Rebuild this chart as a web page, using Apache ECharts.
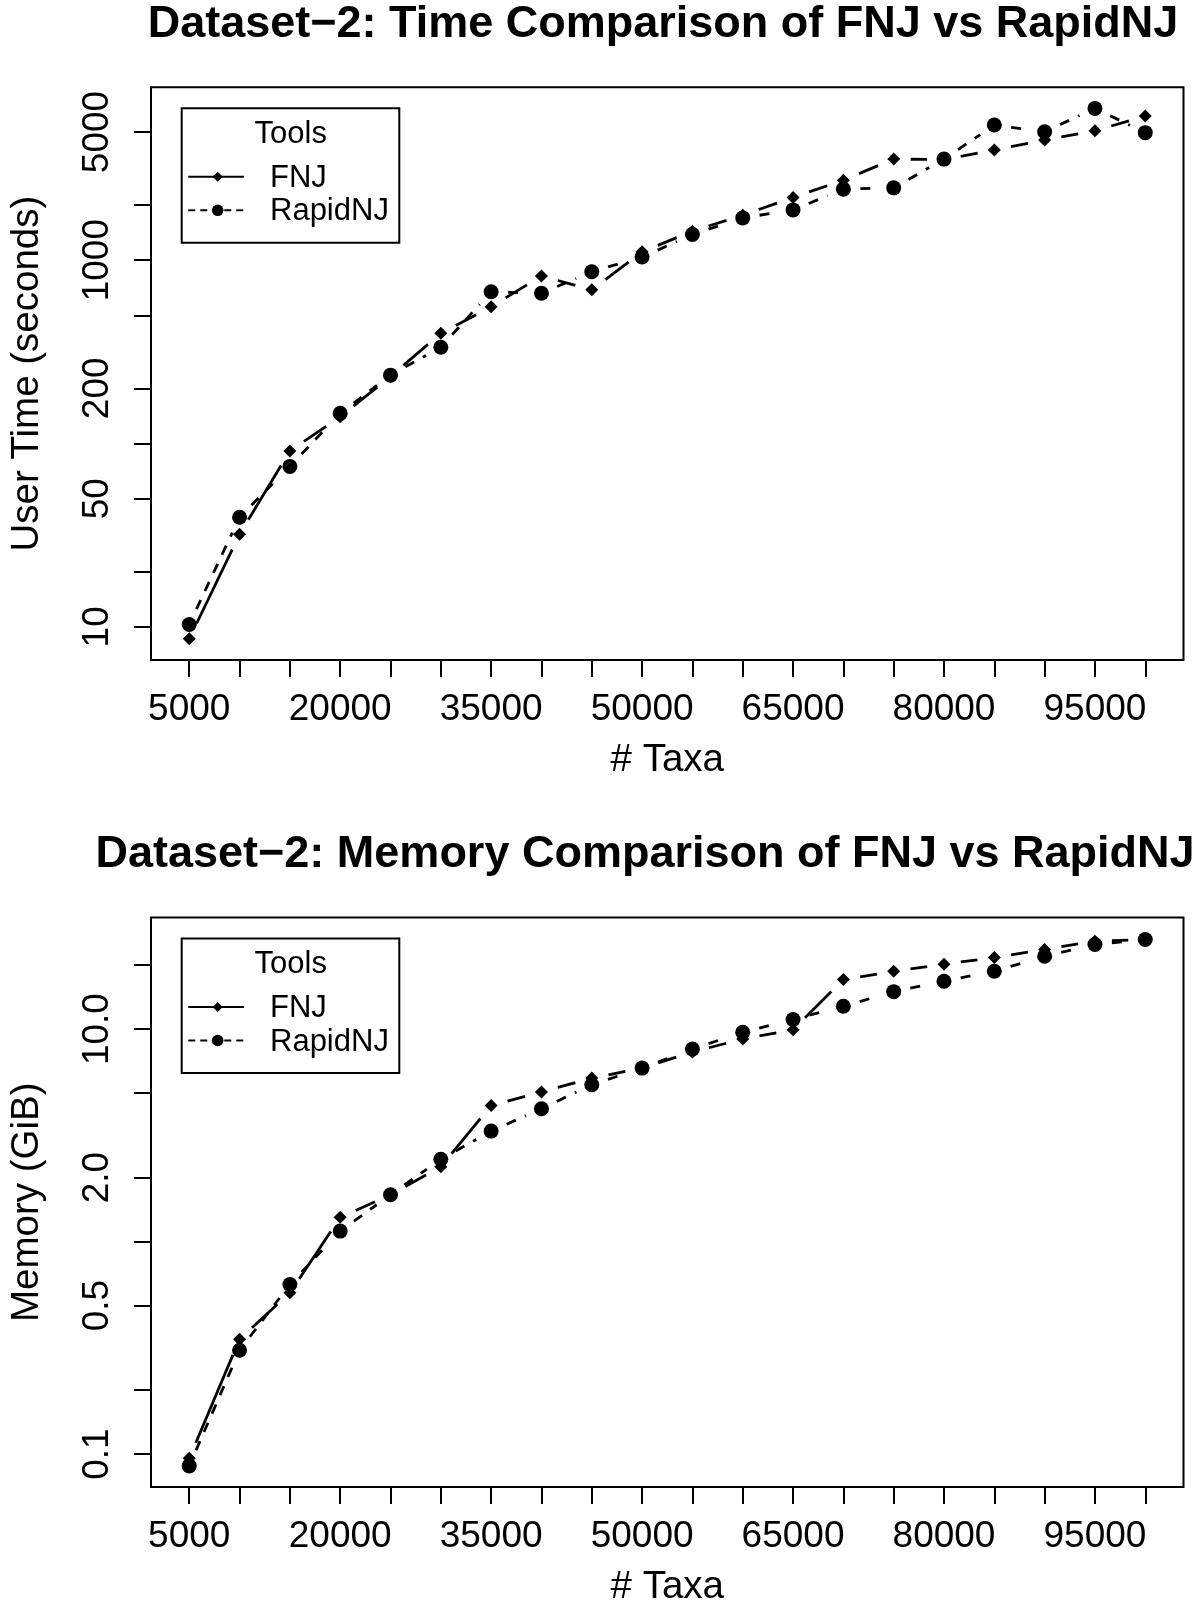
<!DOCTYPE html>
<html>
<head>
<meta charset="utf-8">
<title>Dataset-2: FNJ vs RapidNJ</title>
<script src="https://cdn.jsdelivr.net/npm/echarts@6/dist/echarts.min.js"></script>
<style>
  html, body { margin: 0; padding: 0; background: #fff; }
  #chart { width: 1200px; height: 1608px; }
</style>
</head>
<body>
<div id="chart"></div>
<script>
// # Taxa
const taxa = [5000, 10000, 15000, 20000, 25000, 30000, 35000, 40000, 45000, 50000,
  55000, 60000, 65000, 70000, 75000, 80000, 85000, 90000, 95000, 100000];

// user time (seconds)
const fnjTime = [8.6, 32, 91, 140, 232, 399, 557, 820, 689, 1110,
  1440, 1760, 2200, 2730, 3560, 3540, 3990, 4520, 5080, 6110];
const rapidTime = [10.3, 39.6, 75, 146, 236, 335, 673, 660, 865, 1040,
  1380, 1700, 1880, 2440, 2480, 3560, 5460, 5020, 6730, 4960];

// memory (GiB)
const fnjMem = [0.0955, 0.347, 0.574, 1.3, 1.66, 2.25, 4.37, 5.06, 5.88, 6.55,
  7.8, 8.98, 9.93, 17.1, 18.7, 20.2, 21.7, 23.7, 25.9, 26.4];
const rapidMem = [0.088, 0.308, 0.628, 1.12, 1.66, 2.44, 3.31, 4.22, 5.47, 6.55,
  8.06, 9.65, 11.1, 12.8, 15.0, 16.8, 18.7, 22.0, 25.0, 26.4];

// ticks and tick labels
const xTicks = [5000, 10000, 15000, 20000, 25000, 30000, 35000, 40000, 45000, 50000,
  55000, 60000, 65000, 70000, 75000, 80000, 85000, 90000, 95000, 100000];
const xLabels = [5000, 20000, 35000, 50000, 65000, 80000, 95000];
const timeTicks = [10, 20, 50, 100, 200, 500, 1000, 2000, 5000];
const timeLabels = [10, 50, 200, 1000, 5000];
const memTicks = [0.1, 0.2, 0.5, 1, 2, 5, 10, 20];
const memLabels = [0.1, 0.5, 2, 10];

// visible axis ranges (R adds 4% on each side)
const xRange = [1200, 103800];
const timeRange = [6.6, 8770];
const memRange = [0.07, 33.5];

const FONT = '"Liberation Sans", Arial, Helvetica, sans-serif';
const GAP = 17; // type="b": lines stop short of the points
const GRID_LEFT = 142.9;
const GRID_W = 1040.6;
const GRID_H = 572.6;

const panels = [
  {
    title: 'Dataset\u22122: Time Comparison of FNJ vs RapidNJ',
    titleLeft: 663,
    titleTop: 2,
    yName: 'User Time (seconds)',
    top: 87.3,
    fnj: fnjTime,
    rapid: rapidTime,
    range: timeRange,
    ticks: timeTicks,
    labels: timeLabels,
    digits: 0,
  },
  {
    title: 'Dataset\u22122: Memory Comparison of FNJ vs RapidNJ',
    titleLeft: 645,
    titleTop: 832,
    yName: 'Memory (GiB)',
    top: 917.5,
    fnj: fnjMem,
    rapid: rapidMem,
    range: memRange,
    ticks: memTicks,
    labels: memLabels,
    digits: 1,
  },
];

const textStyle = { color: '#000', fontFamily: FONT, fontSize: 37 };
const nameStyle = { color: '#000', fontFamily: FONT, fontSize: 38.5 };

function gapLine(dash) {
  return function (params, api) {
    const a = api.coord([api.value(0), api.value(1)]);
    const b = api.coord([api.value(2), api.value(3)]);
    const dx = b[0] - a[0];
    const dy = b[1] - a[1];
    const len = Math.hypot(dx, dy);
    if (len <= 2 * GAP) return;
    const ux = dx / len;
    const uy = dy / len;
    return {
      type: 'line',
      shape: {
        x1: a[0] + ux * GAP,
        y1: a[1] + uy * GAP,
        x2: b[0] - ux * GAP,
        y2: b[1] - uy * GAP,
      },
      style: { stroke: '#000', lineWidth: 2.8, lineDash: dash, lineCap: 'butt', fill: null },
    };
  };
}

function segments(ys) {
  return taxa.slice(0, -1).map((x, i) => [x, ys[i], taxa[i + 1], ys[i + 1]]);
}

function points(ys) {
  return taxa.map((x, i) => [x, ys[i]]);
}

function legendBox(top) {
  const L = 181.7;
  const T = top;
  const font = '31px ' + FONT;
  return {
    type: 'group',
    children: [
      { type: 'rect', shape: { x: L, y: T, width: 217.6, height: 134.4 },
        style: { fill: '#fff', stroke: '#000', lineWidth: 2 } },
      { type: 'text', style: { x: L + 109, y: T + 26, text: 'Tools', font: font, fill: '#000',
        align: 'center', textAlign: 'center', verticalAlign: 'middle', textVerticalAlign: 'middle' } },
      { type: 'line', shape: { x1: L + 6.6, y1: T + 68.5, x2: L + 62.3, y2: T + 68.5 },
        style: { stroke: '#000', lineWidth: 2 } },
      { type: 'polygon', shape: { points: [[L + 36, T + 63.5], [L + 41, T + 68.5], [L + 36, T + 73.5], [L + 31, T + 68.5]] },
        style: { fill: '#000' } },
      { type: 'text', style: { x: L + 88.3, y: T + 70, text: 'FNJ', font: font, fill: '#000',
        align: 'left', textAlign: 'left', verticalAlign: 'middle', textVerticalAlign: 'middle' } },
      { type: 'line', shape: { x1: L + 6.6, y1: T + 102, x2: L + 62.3, y2: T + 102 },
        style: { stroke: '#000', lineWidth: 2, lineDash: [7, 5] } },
      { type: 'circle', shape: { cx: L + 36, cy: T + 102, r: 5.8 }, style: { fill: '#000' } },
      { type: 'text', style: { x: L + 88.3, y: T + 103.5, text: 'RapidNJ', font: font, fill: '#000',
        align: 'left', textAlign: 'left', verticalAlign: 'middle', textVerticalAlign: 'middle' } },
    ],
  };
}

const option = {
  animation: false,
  backgroundColor: '#fff',
  title: [],
  grid: [],
  xAxis: [],
  yAxis: [],
  series: [],
  graphic: [],
};

panels.forEach((p, i) => {
  const logTicks = p.ticks.map(Math.log10);
  const logLabels = p.labels.map(Math.log10);

  option.title.push({
    text: p.title,
    left: p.titleLeft,
    top: p.titleTop,
    textAlign: 'center',
    padding: 0,
    textStyle: { color: '#000', fontFamily: FONT, fontSize: 45, fontWeight: 'bold' },
  });

  option.grid.push({
    left: GRID_LEFT,
    top: p.top,
    width: GRID_W,
    height: GRID_H,
    show: true,
    borderColor: '#000',
    borderWidth: 2,
    backgroundColor: 'transparent',
    containLabel: false,
  });

  option.xAxis.push({
    gridIndex: i,
    type: 'value',
    min: xRange[0],
    max: xRange[1],
    position: 'bottom',
    axisLine: { show: false, onZero: false },
    splitLine: { show: false },
    axisTick: { show: true, inside: false, length: 17, customValues: xTicks,
      lineStyle: { color: '#000', width: 2 } },
    axisLabel: { customValues: xLabels, formatter: (v) => String(v), margin: 31, ...textStyle },
    name: '# Taxa',
    nameLocation: 'middle',
    nameGap: 81,
    nameTextStyle: nameStyle,
  });

  // log axis that places the marks
  option.yAxis.push({
    gridIndex: i,
    type: 'log',
    logBase: 10,
    min: p.range[0],
    max: p.range[1],
    position: 'right',
    axisLine: { onZero: false },
    show: false,
  });

  // matching axis in log10 units for R-style ticks and labels
  option.yAxis.push({
    gridIndex: i,
    type: 'value',
    min: Math.log10(p.range[0]),
    max: Math.log10(p.range[1]),
    position: 'left',
    axisLine: { show: false, onZero: false },
    splitLine: { show: false },
    axisTick: { show: true, inside: false, length: 17, customValues: logTicks,
      lineStyle: { color: '#000', width: 2 } },
    axisLabel: {
      customValues: logLabels,
      rotate: 90,
      margin: 35,
      formatter: (v) => {
        const k = logLabels.findIndex((q) => Math.abs(q - v) < 1e-9);
        return k < 0 ? '' : p.labels[k].toFixed(p.digits);
      },
      ...textStyle,
    },
    name: p.yName,
    nameLocation: 'middle',
    nameRotate: 90,
    nameGap: 104,
    nameTextStyle: nameStyle,
  });

  const yIdx = i * 2;
  option.series.push(
    {
      name: 'FNJ',
      type: 'custom',
      coordinateSystem: 'cartesian2d',
      xAxisIndex: i,
      yAxisIndex: yIdx,
      silent: true,
      renderItem: gapLine(null),
      encode: { x: [0, 2], y: [1, 3] },
      data: segments(p.fnj),
    },
    {
      name: 'RapidNJ',
      type: 'custom',
      coordinateSystem: 'cartesian2d',
      xAxisIndex: i,
      yAxisIndex: yIdx,
      silent: true,
      renderItem: gapLine([10, 10]),
      encode: { x: [0, 2], y: [1, 3] },
      data: segments(p.rapid),
    },
    {
      name: 'FNJ',
      type: 'scatter',
      xAxisIndex: i,
      yAxisIndex: yIdx,
      silent: true,
      symbol: 'diamond',
      symbolSize: 13,
      itemStyle: { color: '#000', opacity: 1 },
      data: points(p.fnj),
    },
    {
      name: 'RapidNJ',
      type: 'scatter',
      xAxisIndex: i,
      yAxisIndex: yIdx,
      silent: true,
      symbol: 'circle',
      symbolSize: 15,
      itemStyle: { color: '#000', opacity: 1 },
      data: points(p.rapid),
    }
  );

  option.graphic.push(legendBox(p.top + 21));
});

const chart = echarts.init(document.getElementById('chart'), null, { renderer: 'canvas' });
chart.setOption(option);
</script>
</body>
</html>
